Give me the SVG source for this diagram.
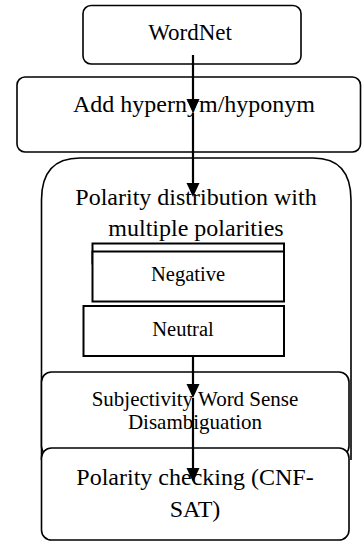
<svg xmlns="http://www.w3.org/2000/svg" width="362" height="541" viewBox="0 0 362 541">
<defs>
<style>
.box{fill:#fff;stroke:#000;stroke-width:1.6}
.sq{fill:#fff;stroke:#000;stroke-width:2}
.t{font-family:"Liberation Serif","Times New Roman",serif;fill:#000;text-anchor:middle}
.edge{stroke:#000;stroke-width:2.2;fill:none}
</style>
</defs>
<rect width="362" height="541" fill="#fff"/>
<g id="container">
<path class="box" d="M41.5,460 L41.5,200 Q41.5,158 80,158 L313,158 Q351,158 351,200 L351,460" fill="none"/>
</g>
<g id="wordnet">
<rect class="box" x="83" y="5.5" width="218" height="58.5" rx="8"/>
<text class="t" x="190" y="40" font-size="23">WordNet</text>
</g>
<g id="hypernym">
<rect class="box" x="17" y="77" width="343.5" height="75" rx="8"/>
<text class="t" x="194" y="112" font-size="24">Add hypernym/hyponym</text>
</g>
<g id="polarity-distribution">
<text class="t" x="196" y="205" font-size="24">Polarity distribution with</text>
<text class="t" x="196" y="236" font-size="24">multiple polarities</text>
</g>
<g id="hidden-box">
<rect class="sq" x="92.5" y="243.5" width="191.5" height="20"/>
</g>
<g id="negative">
<rect class="sq" x="92.5" y="251.5" width="191.5" height="50"/>
<text class="t" x="188" y="281" font-size="20.5">Negative</text>
</g>
<g id="neutral">
<rect class="sq" x="83.5" y="306" width="200.5" height="50"/>
<text class="t" x="183" y="335.5" font-size="20.5">Neutral</text>
</g>
<g id="subjectivity">
<rect class="box" x="41.5" y="372" width="307.5" height="84" rx="10"/>
<text class="t" x="195" y="405.5" font-size="21">Subjectivity Word Sense</text>
<text class="t" x="195" y="429" font-size="21">Disambiguation</text>
</g>
<g id="polarity-checking">
<rect class="box" x="41.5" y="448" width="307.5" height="92" rx="10"/>
<text class="t" x="195" y="485" font-size="24">Polarity checking (CNF-</text>
<text class="t" x="195" y="517" font-size="24">SAT)</text>
</g>
<g id="connectors">
<line class="edge" x1="193" y1="55" x2="193" y2="102"/>
<polygon fill="#000" points="186.5,99 199.5,99 193,113"/>
<line class="edge" x1="193" y1="113" x2="193" y2="186"/>
<polygon fill="#000" points="186.5,183 199.5,183 193,197"/>
<line class="edge" x1="193" y1="356" x2="193" y2="387"/>
<polygon fill="#000" points="186.5,384 199.5,384 193,398"/>
<line class="edge" x1="193" y1="398" x2="193" y2="471"/>
<polygon fill="#000" points="186.5,468 199.5,468 193,482"/>
</g>
</svg>
